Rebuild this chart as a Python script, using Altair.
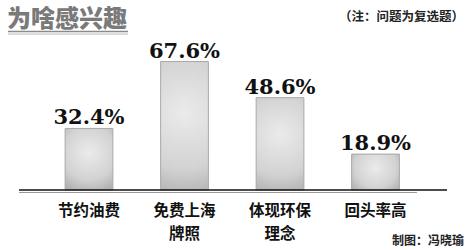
import altair as alt
import pandas as pd

# Survey: why people are interested (multiple choice)
categories = ["节约油费", "免费上海牌照", "体现环保理念", "回头率高"]
label_line1 = ["节约油费", "免费上海", "体现环保", "回头率高"]
label_line2 = ["", "牌照", "理念", ""]
values = [32.4, 67.6, 48.6, 18.9]
value_labels = ["32.4%", "67.6%", "48.6%", "18.9%"]

title_text = "为啥感兴趣"
note_text = "（注：问题为复选题）"
credit_text = "制图：冯晓瑜"

df = pd.DataFrame({
    "cat": categories,
    "l1": label_line1,
    "l2": label_line2,
    "value": values,
    "label": value_labels,
})

W, H = 469, 250
BASE = 190

x_scale = alt.Scale(domain=categories, range=[41.25, 423.25],
                    paddingInner=0.5, paddingOuter=0.25)
y_scale = alt.Scale(domain=[0, 100], range=[BASE, 0])

x_enc = alt.X("cat:N", scale=x_scale, axis=None, sort=categories)
y_enc = alt.Y("value:Q", scale=y_scale, axis=None)

bar_fill = {
    "gradient": "radial",
    "stops": [
        {"offset": 0, "color": "#ebebeb"},
        {"offset": 0.55, "color": "#d2d2d2"},
        {"offset": 1, "color": "#9c9c9c"},
    ],
    "x1": 0.5, "y1": 0.4, "r1": 0,
    "x2": 0.5, "y2": 0.4, "r2": 0.8,
}

base = alt.Chart(df)

bars = base.mark_bar(fill=bar_fill, stroke="#a8a8a8", strokeWidth=1).encode(
    x=x_enc, y=y_enc
)

pct = base.mark_text(
    font="DejaVu Serif", fontWeight="bold", fontSize=21,
    baseline="alphabetic", dy=-4, color="#111111",
).encode(x=x_enc, y=y_enc, text="label:N")

cat_style = dict(font="Noto Sans CJK SC", fontWeight="bold", fontSize=15.5,
                 baseline="middle", color="#111111")
cat_line1 = base.mark_text(**cat_style).encode(
    x=x_enc, y=alt.value(211), text="l1:N")
cat_line2 = base.mark_text(**cat_style).encode(
    x=x_enc, y=alt.value(234), text="l2:N")

one = alt.Chart(pd.DataFrame({"t": [title_text], "n": [note_text], "c": [credit_text]}))

axis_line = one.mark_rule(color="#111111", strokeWidth=1.6).encode(
    x=alt.value(19), x2=alt.value(447), y=alt.value(BASE)
)
axis_shadow = one.mark_rule(color="#9a9a9a", strokeWidth=1).encode(
    x=alt.value(19), x2=alt.value(417), y=alt.value(BASE + 2.5)
)

title = one.mark_text(
    font="Noto Sans CJK SC", fontWeight=900, fontSize=24,
    align="left", baseline="alphabetic", color="#7a7a7a",
).encode(x=alt.value(7), y=alt.value(27), text="t:N")
title_rule1 = one.mark_rule(color="#8a8a8a", strokeWidth=1.6).encode(
    x=alt.value(8), x2=alt.value(128), y=alt.value(31.5)
)
title_rule2 = one.mark_rule(color="#bdbdbd", strokeWidth=1).encode(
    x=alt.value(8), x2=alt.value(128), y=alt.value(34)
)

note = one.mark_text(
    font="Noto Sans CJK SC", fontWeight="bold", fontSize=12.5,
    align="right", baseline="middle", color="#222222",
).encode(x=alt.value(464), y=alt.value(17), text="n:N")

credit = one.mark_text(
    font="Noto Sans CJK SC", fontWeight="bold", fontSize=12,
    align="right", baseline="middle", color="#222222",
).encode(x=alt.value(464), y=alt.value(241), text="c:N")

chart = alt.layer(
    bars, pct, cat_line1, cat_line2, axis_line, axis_shadow,
    title, title_rule1, title_rule2, note, credit,
).properties(
    width=W, height=H, padding=0,
    autosize=alt.AutoSizeParams(type="none"),
    background="white",
).configure_view(stroke=None)

chart.save("out.html", embed_options={"renderer": "svg", "actions": False})
